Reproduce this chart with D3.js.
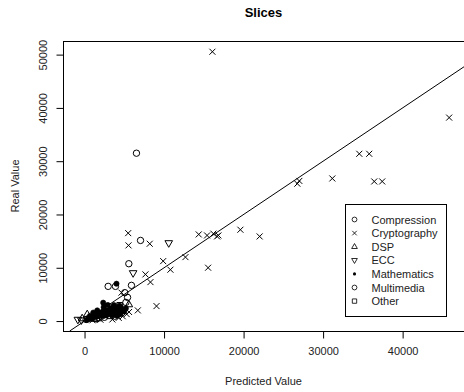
<!DOCTYPE html>
<html>
<head>
<meta charset="utf-8">
<script src="https://cdn.jsdelivr.net/npm/d3@7"></script>
<style>
  body { margin: 0; background: #fff; }
  svg { display: block; font-family: "Liberation Sans", Arial, sans-serif; }
</style>
</head>
<body>
<svg id="chart" width="464" height="392"></svg>
<script>
// category names, in legend order
const categories = ['Compression', 'Cryptography', 'DSP', 'ECC', 'Mathematics', 'Multimedia', 'Other'];
const symbols = ['circle', 'cross', 'triUp', 'triDown', 'dot', 'circle', 'square'];

// [predicted, real] pairs
const compression = [
  [6530, 31500], [7040, 15130], [5570, 10760], [5900, 6700], [2970, 6510],
  [200, 300], [600, 600], [1500, 400], [2500, 700], [3800, 900], [4400, 1900], [3000, 2800]
];
const cryptography = [
  [16080, 50540], [45850, 38180], [34550, 31390], [35800, 31390], [31160, 26760],
  [36430, 26200], [37430, 26200], [26760, 25780], [27010, 26300], [22020, 15880],
  [5490, 16500], [5530, 14200], [8200, 14510], [14360, 16260], [15410, 16070],
  [16200, 16400], [16830, 16070], [16670, 15880], [19600, 17140], [9890, 11250],
  [10800, 9640], [12690, 12000], [15540, 10010], [7660, 8760], [8290, 7310],
  [9050, 2810], [6700, 2000], [4650, 5330], [4300, 600], [4800, 900], [5300, 1300],
  [3500, 300], [2000, 250], [1000, 150], [5600, 1700]
];
const dsp = [[5570, 3130], [340, 1260], [-300, 500], [1200, 400]];
const ecc = [[10590, 14630], [6110, 9000], [-840, 260], [-400, 150]];
const mathematics = [
  [4020, 7010], [2350, 3450], [500, 400], [800, 700], [1000, 500], [1200, 900],
  [1400, 1100], [1500, 800], [1700, 1300], [1800, 1000], [2000, 1500], [2100, 1200],
  [2200, 1700], [2300, 900], [2500, 1400], [2600, 1900], [2700, 1100], [2800, 1600],
  [3000, 2000], [3100, 1300], [3200, 1800], [3300, 2400], [3400, 1500], [3500, 1100],
  [3600, 2100], [3700, 1700], [3800, 2600], [3900, 1400], [4000, 2000], [4100, 1000],
  [4200, 2300], [4300, 1600], [4500, 1300], [4600, 2500], [4700, 1900], [1600, 2000],
  [2400, 2600], [2900, 3000], [1100, 1600], [700, 1000], [300, 200], [3700, 3000],
  [4400, 2900], [5000, 1800], [5200, 2400]
];
const multimedia = [[3890, 6510], [5060, 5330], [5410, 4440], [5200, 3500], [1900, 1100]];
const other = [[4430, 2940], [3200, 1000], [1800, 600], [2600, 1200]];

const xTicks = [0, 10000, 20000, 30000, 40000];
const yTicks = [0, 10000, 20000, 30000, 40000, 50000];

const series = [compression, cryptography, dsp, ecc, mathematics, multimedia, other];

const svg = d3.select('#chart');
const plot = { left: 63, right: 464, top: 41, bottom: 331 };

// R-style 4% padding around the data range
function padded(values) {
  const [lo, hi] = d3.extent(values);
  const pad = (hi - lo) * 0.04;
  return [lo - pad, hi + pad];
}
const all = series.flat();
const x = d3.scaleLinear().domain(padded(all.map(d => d[0]))).range([plot.left, plot.right]);
const y = d3.scaleLinear().domain(padded(all.map(d => d[1]))).range([plot.bottom, plot.top]);

// path string for one plotting symbol centred at 0,0
function symbolPath(type) {
  const r = 3.2;
  switch (type) {
    case 'circle':
      return `M${r},0A${r},${r} 0 1,1 ${-r},0A${r},${r} 0 1,1 ${r},0Z`;
    case 'cross':
      return `M-3,-3L3,3M-3,3L3,-3`;
    case 'triUp':
      return `M0,-4.2L3.8,2.4L-3.8,2.4Z`;
    case 'triDown':
      return `M0,4.2L3.8,-2.4L-3.8,-2.4Z`;
    case 'square':
      return `M-2.9,-2.9H2.9V2.9H-2.9Z`;
    case 'dot': {
      const s = 2.6;
      return `M${s},0A${s},${s} 0 1,1 ${-s},0A${s},${s} 0 1,1 ${s},0Z`;
    }
  }
}

svg.append('defs').append('clipPath').attr('id', 'plot-clip')
  .append('rect').attr('x', plot.left).attr('y', plot.top)
  .attr('width', plot.right - plot.left).attr('height', plot.bottom - plot.top);

// points
series.forEach((data, i) => {
  const type = symbols[i];
  svg.append('g')
    .selectAll('path')
    .data(data)
    .enter()
    .append('path')
    .attr('d', symbolPath(type))
    .attr('transform', d => `translate(${x(d[0])},${y(d[1])})`)
    .attr('fill', type === 'dot' ? '#000' : 'none')
    .attr('stroke', '#000')
    .attr('stroke-width', type === 'dot' ? 0.6 : 1);
});

// identity line y = x
const lo = Math.max(x.domain()[0], y.domain()[0]);
const hi = Math.min(x.domain()[1], y.domain()[1]);
svg.append('line')
  .attr('clip-path', 'url(#plot-clip)')
  .attr('x1', x(lo)).attr('y1', y(lo))
  .attr('x2', x(hi)).attr('y2', y(hi))
  .attr('stroke', '#000').attr('stroke-width', 1);

// box
svg.append('rect')
  .attr('x', plot.left + 0.5).attr('y', plot.top + 0.5)
  .attr('width', plot.right - plot.left).attr('height', plot.bottom - plot.top)
  .attr('fill', 'none').attr('stroke', '#000');

// axes
const xAxis = svg.append('g')
  .attr('transform', `translate(0,${plot.bottom + 0.5})`)
  .call(d3.axisBottom(x).tickValues(xTicks).tickSize(7).tickPadding(9).tickFormat(d3.format('d')));
xAxis.select('.domain').remove();
xAxis.selectAll('text').attr('font-size', 11).attr('font-family', '"Liberation Sans", Arial, sans-serif').attr('fill', '#222');

const yAxis = svg.append('g')
  .attr('transform', `translate(${plot.left + 0.5},0)`)
  .call(d3.axisLeft(y).tickValues(yTicks).tickSize(7).tickFormat(d3.format('d')));
yAxis.select('.domain').remove();
yAxis.selectAll('text')
  .attr('font-size', 11)
  .attr('font-family', '"Liberation Sans", Arial, sans-serif')
  .attr('fill', '#222')
  .attr('x', null).attr('dy', null)
  .attr('text-anchor', 'middle')
  .attr('transform', 'translate(-17,0) rotate(-90)');

// titles
svg.append('text')
  .attr('x', (plot.left + plot.right) / 2).attr('y', 17)
  .attr('text-anchor', 'middle')
  .attr('font-size', 13).attr('font-weight', 'bold')
  .text('Slices');

svg.append('text')
  .attr('x', (plot.left + plot.right) / 2).attr('y', 385)
  .attr('text-anchor', 'middle')
  .attr('font-size', 11).attr('fill', '#222')
  .text('Predicted Value');

svg.append('text')
  .attr('transform', `translate(19,${(plot.top + plot.bottom) / 2}) rotate(-90)`)
  .attr('text-anchor', 'middle')
  .attr('font-size', 11).attr('fill', '#222')
  .text('Real Value');

// legend
const legend = svg.append('g');
legend.append('rect')
  .attr('x', 345.5).attr('y', 204.5).attr('width', 101).attr('height', 112)
  .attr('fill', '#fff').attr('stroke', '#000');
categories.forEach((name, i) => {
  const cy = 219.5 + i * 13.6;
  const type = symbols[i];
  legend.append('path')
    .attr('d', symbolPath(type))
    .attr('fill', type === 'dot' ? '#000' : 'none')
    .attr('stroke', '#000')
    .attr('stroke-width', type === 'dot' ? 0 : 1.1)
    .attr('transform', `translate(354.5,${cy}) scale(${type === 'dot' ? 0.6 : 0.75})`);
  legend.append('text')
    .attr('x', 371.5).attr('y', cy + 4)
    .attr('font-size', 11).attr('fill', '#222')
    .text(name);
});
</script>
</body>
</html>
